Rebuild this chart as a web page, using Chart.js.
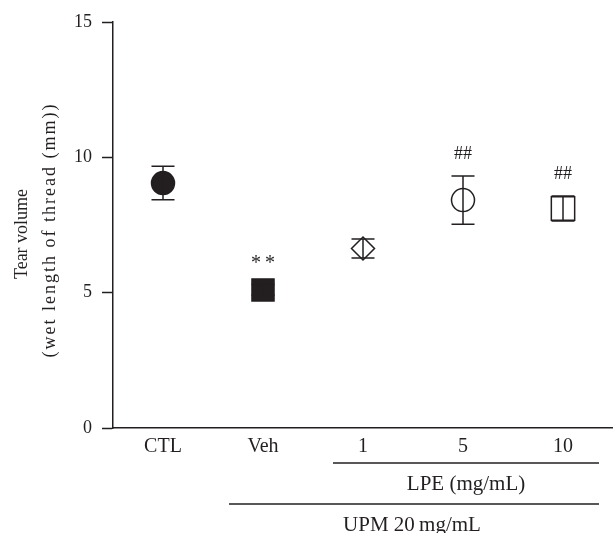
<!DOCTYPE html>
<html>
<head>
<meta charset="utf-8">
<script src="https://cdn.jsdelivr.net/npm/chart.js@4.4.1/dist/chart.umd.min.js"></script>
<style>
  html, body { margin: 0; padding: 0; background: #ffffff; }
  #wrap { width: 613px; height: 533px; }
</style>
</head>
<body>
<div id="wrap"><canvas id="c" width="613" height="533"></canvas></div>
<script>
// ---- data ----
const categories = ['CTL', 'Veh', '1', '5', '10'];
const means = [9.05, 5.10, 6.63, 8.42, 8.11];
const errors = [0.62, 0.20, 0.35, 0.89, 0.46];
const significance = ['', '**', '', '##', '##'];
const yTicks = [0, 5, 10, 15];
const yTitleLines = ['Tear volume', '(wet length of thread (mm))'];
const groupLabels = ['LPE (mg/mL)', 'UPM 20\u2009mg/mL'];
const groupStart = [2, 1];
const groupEnd = [4, 4];

// ---- styles ----
const INK = '#231f20';
const FONT = "'Liberation Serif', 'Times New Roman', serif";
const markerStyles = ['circle', 'rect', 'rectRot', 'circle', 'rect'];
const markerRadius = [11.5, 15.6, 11.5, 11.5, 16.5];
const markerFill = [INK, INK, '#ffffff', '#ffffff', '#ffffff'];
const markerHalf = [10, 11, 10, 11, 12];

const errorBars = {
  id: 'errorBars',
  afterDatasetsDraw(chart) {
    const ctx = chart.ctx, xs = chart.scales.x, ys = chart.scales.y;
    ctx.save();
    ctx.strokeStyle = INK;
    ctx.lineWidth = 1.5;
    means.forEach((m, i) => {
      const x = xs.getPixelForValue(i);
      const yT = ys.getPixelForValue(m + errors[i]);
      const yB = ys.getPixelForValue(m - errors[i]);
      ctx.beginPath();
      ctx.moveTo(x, yT); ctx.lineTo(x, yB);
      ctx.moveTo(x - 11.5, yT); ctx.lineTo(x + 11.5, yT);
      ctx.moveTo(x - 11.5, yB); ctx.lineTo(x + 11.5, yB);
      ctx.stroke();
      if (significance[i]) {
        const yc = ys.getPixelForValue(m);
        const top = Math.min(yT, yc - markerHalf[i]);
        ctx.fillStyle = INK;
        ctx.textAlign = 'center';
        ctx.textBaseline = 'alphabetic';
        const isStar = significance[i].indexOf('*') >= 0;
        ctx.font = (isStar ? '20px ' : '18px ') + FONT;
        if (isStar) { ctx.letterSpacing = '4px'; }
        ctx.fillText(significance[i], x + (isStar ? 2 : 0), top - (isStar ? 10 : 17));
        ctx.letterSpacing = '0px';
      }
    });
    ctx.restore();
  }
};

const groupBrackets = {
  id: 'groupBrackets',
  afterDraw(chart) {
    const ctx = chart.ctx, xs = chart.scales.x;
    const base = chart.chartArea.bottom;
    ctx.save();
    ctx.strokeStyle = INK;
    ctx.fillStyle = INK;
    ctx.lineWidth = 1.5;
    ctx.font = '21px ' + FONT;
    ctx.textAlign = 'center';
    ctx.textBaseline = 'middle';
    groupLabels.forEach((lab, g) => {
      const x0 = xs.getPixelForValue(groupStart[g]) - (g === 0 ? 30 : 34);
      const x1 = xs.getPixelForValue(groupEnd[g]) + 36;
      const yLine = base + (g === 0 ? 35 : 76);
      ctx.beginPath();
      ctx.moveTo(x0, yLine); ctx.lineTo(x1, yLine);
      ctx.stroke();
      ctx.fillText(lab, (x0 + x1) / 2 - (g === 0 ? 0 : 2), yLine + 21);
    });
    // y-axis title (two rotated lines)
    const yMid = (chart.chartArea.top + chart.chartArea.bottom) / 2;
    const specs = [
      { x: 22, y: yMid + 9, size: 18, spacing: '0px' },
      { x: 50, y: yMid + 5, size: 18, spacing: '2px' }
    ];
    yTitleLines.forEach((t, k) => {
      ctx.save();
      ctx.translate(specs[k].x, specs[k].y);
      ctx.rotate(-Math.PI / 2);
      ctx.font = specs[k].size + 'px ' + FONT;
      ctx.letterSpacing = specs[k].spacing;
      ctx.textAlign = 'center';
      ctx.textBaseline = 'middle';
      ctx.fillText(t, 0, 0);
      ctx.restore();
    });
    ctx.restore();
  }
};

new Chart(document.getElementById('c'), {
  type: 'line',
  data: {
    labels: categories,
    datasets: [{
      data: means,
      showLine: false,
      clip: false,
      pointStyle: markerStyles,
      pointRadius: markerRadius,
      pointHoverRadius: markerRadius,
      pointBackgroundColor: markerFill,
      pointBorderColor: INK,
      pointBorderWidth: 1.5
    }]
  },
  options: {
    responsive: false,
    animation: false,
    devicePixelRatio: 1,
    layout: { autoPadding: false, padding: { top: 22, right: 0, bottom: 0, left: 0 } },
    plugins: { legend: { display: false }, tooltip: { enabled: false } },
    scales: {
      x: {
        type: 'category',
        offset: true,
        grid: { display: true, drawOnChartArea: false, drawTicks: false },
        border: { display: true, color: INK, width: 1.5 },
        ticks: { color: INK, font: { family: FONT, size: 20 }, padding: 7 },
        afterFit(s) { s.height = 105; s.paddingLeft = 0; s.paddingRight = 0; }
      },
      y: {
        min: 0, max: 15,
        afterBuildTicks(s) { s.ticks = yTicks.map(v => ({ value: v })); },
        grid: { display: true, drawOnChartArea: false, drawTicks: true, tickLength: 11, tickColor: INK, tickWidth: 1.5 },
        border: { display: true, color: INK, width: 1.5 },
        ticks: { color: INK, font: { family: FONT, size: 18 }, padding: 10 },
        title: { display: false },
        afterFit(s) { s.width = 113; }
      }
    }
  },
  plugins: [errorBars, groupBrackets]
});
</script>
</body>
</html>
